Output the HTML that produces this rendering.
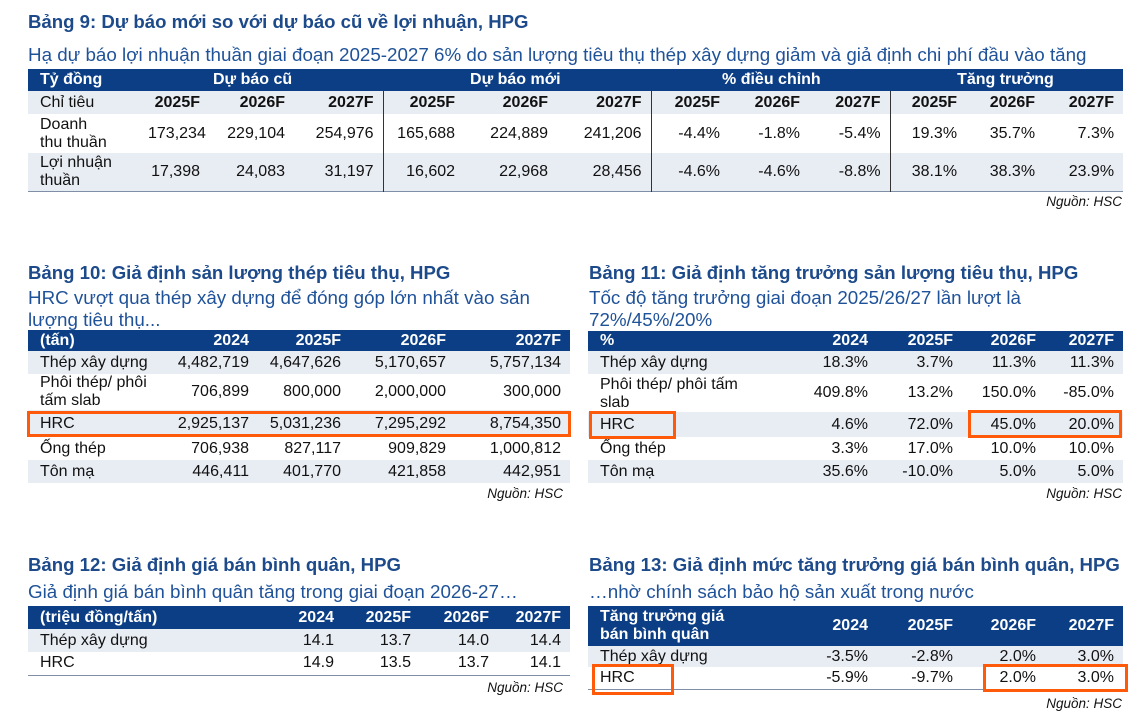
<!DOCTYPE html>
<html><head><meta charset="utf-8"><style>
*{margin:0;padding:0;box-sizing:border-box}
body{width:1145px;height:713px;background:#fff;position:relative;overflow:hidden;font-family:"Liberation Sans",Arial,sans-serif;color:#111}
.t{position:absolute;font-weight:bold;font-size:18.6px;color:#1d4a8a;white-space:nowrap}
.s{position:absolute;font-size:18.8px;color:#1f5299;line-height:22px;white-space:nowrap}
.src{position:absolute;font-style:italic;font-size:13.5px;color:#111}
table{position:absolute;border-collapse:collapse;table-layout:fixed;font-size:16px}
td{padding:0 9px 0 0;text-align:right;white-space:nowrap;line-height:18px}
td.l{text-align:left;padding-left:12px}
tr.h td{background:#0b3e84;color:#fff;font-weight:bold}
tr.a td{background:#e8ecf3}
tr.b td{background:#fff}
.vr{border-right:1.5px solid #333}
.box{position:absolute;border:3px solid #ff5a0a}
.bl{border-bottom:1px solid #7f8fa8}
</style></head><body>

<div class="t" style="left:28px;top:11px">Bảng 9: Dự báo mới so với dự báo cũ về lợi nhuận, HPG</div>
<div class="s" style="left:28px;top:44px">Hạ dự báo lợi nhuận thuần giai đoạn 2025-2027 6% do sản lượng tiêu thụ thép xây dựng giảm và giả định chi phí đầu vào tăng</div>
<table style="left:28px;top:69px;width:1095px" class="bl">
<colgroup><col style="width:120px"><col style="width:61px"><col style="width:85px"><col style="width:89px"><col style="width:81px"><col style="width:93px"><col style="width:94px"><col style="width:78px"><col style="width:80px"><col style="width:81px"><col style="width:76px"><col style="width:78px"><col style="width:79px"></colgroup>
<tr class="h" style="height:22px"><td class="l">Tỷ đồng</td><td colspan="3" style="text-align:left;padding-left:65px">Dự báo cũ</td><td colspan="3" style="text-align:left;padding-left:87px">Dự báo mới</td><td colspan="3" style="text-align:left;padding-left:71px">% điều chỉnh</td><td colspan="3" style="text-align:left;padding-left:67px">Tăng trưởng</td></tr>
<tr class="a" style="height:23px;font-weight:bold"><td class="l" style="font-weight:normal">Chỉ tiêu</td><td>2025F</td><td>2026F</td><td class="vr">2027F</td><td>2025F</td><td>2026F</td><td class="vr">2027F</td><td>2025F</td><td>2026F</td><td class="vr">2027F</td><td>2025F</td><td>2026F</td><td>2027F</td></tr>
<tr class="b" style="height:39px"><td class="l">Doanh<br>thu thuần</td><td>173,234</td><td>229,104</td><td class="vr">254,976</td><td>165,688</td><td>224,889</td><td class="vr">241,206</td><td>-4.4%</td><td>-1.8%</td><td class="vr">-5.4%</td><td>19.3%</td><td>35.7%</td><td>7.3%</td></tr>
<tr class="a" style="height:38px"><td class="l">Lợi nhuận<br>thuần</td><td>17,398</td><td>24,083</td><td class="vr">31,197</td><td>16,602</td><td>22,968</td><td class="vr">28,456</td><td>-4.6%</td><td>-4.6%</td><td class="vr">-8.8%</td><td>38.1%</td><td>38.3%</td><td>23.9%</td></tr>
</table>
<div class="src" style="right:23px;top:194px">Nguồn: HSC</div>

<div class="t" style="left:28px;top:262px">Bảng 10: Giả định sản lượng thép tiêu thụ, HPG</div>
<div class="s" style="left:28px;top:287px">HRC vượt qua thép xây dựng để đóng góp lớn nhất vào sản<br>lượng tiêu thụ...</div>
<table style="left:28px;top:330px;width:542px">
<colgroup><col style="width:138px"><col style="width:92px"><col style="width:92px"><col style="width:105px"><col style="width:115px"></colgroup>
<tr class="h" style="height:21px"><td class="l">(tấn)</td><td>2024</td><td>2025F</td><td>2026F</td><td>2027F</td></tr>
<tr class="a" style="height:23px"><td class="l">Thép xây dựng</td><td>4,482,719</td><td>4,647,626</td><td>5,170,657</td><td>5,757,134</td></tr>
<tr class="b" style="height:36px"><td class="l">Phôi thép/ phôi<br>tấm slab</td><td>706,899</td><td>800,000</td><td>2,000,000</td><td>300,000</td></tr>
<tr class="a" style="height:27px"><td class="l">HRC</td><td>2,925,137</td><td>5,031,236</td><td>7,295,292</td><td>8,754,350</td></tr>
<tr class="b" style="height:23px"><td class="l">Ống thép</td><td>706,938</td><td>827,117</td><td>909,829</td><td>1,000,812</td></tr>
<tr class="a" style="height:23px"><td class="l">Tôn mạ</td><td>446,411</td><td>401,770</td><td>421,858</td><td>442,951</td></tr>
</table>
<div class="box" style="left:27px;top:411px;width:544px;height:26px"></div>
<div class="src" style="right:582px;top:486px">Nguồn: HSC</div>

<div class="t" style="left:589px;top:262px">Bảng 11: Giả định tăng trưởng sản lượng tiêu thụ, HPG</div>
<div class="s" style="left:589px;top:287px">Tốc độ tăng trưởng giai đoạn 2025/26/27 lần lượt là<br>72%/45%/20%</div>
<table style="left:588px;top:331px;width:535px">
<colgroup><col style="width:206px"><col style="width:83px"><col style="width:85px"><col style="width:83px"><col style="width:78px"></colgroup>
<tr class="h" style="height:20px"><td class="l">%</td><td>2024</td><td>2025F</td><td>2026F</td><td>2027F</td></tr>
<tr class="a" style="height:23px"><td class="l">Thép xây dựng</td><td>18.3%</td><td>3.7%</td><td>11.3%</td><td>11.3%</td></tr>
<tr class="b" style="height:38px"><td class="l" style="vertical-align:top;padding-top:2px">Phôi thép/ phôi tấm<br>slab</td><td>409.8%</td><td>13.2%</td><td>150.0%</td><td>-85.0%</td></tr>
<tr class="a" style="height:25px"><td class="l">HRC</td><td>4.6%</td><td>72.0%</td><td>45.0%</td><td>20.0%</td></tr>
<tr class="b" style="height:23px"><td class="l">Ống thép</td><td>3.3%</td><td>17.0%</td><td>10.0%</td><td>10.0%</td></tr>
<tr class="a" style="height:23px"><td class="l">Tôn mạ</td><td>35.6%</td><td>-10.0%</td><td>5.0%</td><td>5.0%</td></tr>
</table>
<div class="box" style="left:589px;top:411px;width:87px;height:28px"></div>
<div class="box" style="left:968px;top:410px;width:154px;height:28px"></div>
<div class="src" style="right:23px;top:486px">Nguồn: HSC</div>

<div class="t" style="left:28px;top:554px">Bảng 12: Giả định giá bán bình quân, HPG</div>
<div class="s" style="left:28px;top:581px">Giả định giá bán bình quân tăng trong giai đoạn 2026-27…</div>
<table style="left:28px;top:606px;width:542px" class="bl">
<colgroup><col style="width:238px"><col style="width:77px"><col style="width:77px"><col style="width:78px"><col style="width:72px"></colgroup>
<tr class="h" style="height:23px"><td class="l">(triệu đồng/tấn)</td><td>2024</td><td>2025F</td><td>2026F</td><td>2027F</td></tr>
<tr class="a" style="height:23px"><td class="l">Thép xây dựng</td><td>14.1</td><td>13.7</td><td>14.0</td><td>14.4</td></tr>
<tr class="b" style="height:23px"><td class="l">HRC</td><td>14.9</td><td>13.5</td><td>13.7</td><td>14.1</td></tr>
</table>
<div class="src" style="right:582px;top:680px">Nguồn: HSC</div>

<div class="t" style="left:589px;top:554px">Bảng 13: Giả định mức tăng trưởng giá bán bình quân, HPG</div>
<div class="s" style="left:589px;top:581px">…nhờ chính sách bảo hộ sản xuất trong nước</div>
<table style="left:588px;top:606px;width:535px" class="bl">
<colgroup><col style="width:206px"><col style="width:83px"><col style="width:85px"><col style="width:83px"><col style="width:78px"></colgroup>
<tr class="h" style="height:40px"><td class="l">Tăng trưởng giá<br>bán bình quân</td><td>2024</td><td>2025F</td><td>2026F</td><td>2027F</td></tr>
<tr class="a" style="height:21px"><td class="l">Thép xây dựng</td><td>-3.5%</td><td>-2.8%</td><td>2.0%</td><td>3.0%</td></tr>
<tr class="b" style="height:22px"><td class="l">HRC</td><td>-5.9%</td><td>-9.7%</td><td>2.0%</td><td>3.0%</td></tr>
</table>
<div class="box" style="left:592px;top:664px;width:82px;height:31px"></div>
<div class="box" style="left:983px;top:664px;width:145px;height:28px"></div>
<div class="src" style="right:23px;top:696px">Nguồn: HSC</div>
</body></html>
